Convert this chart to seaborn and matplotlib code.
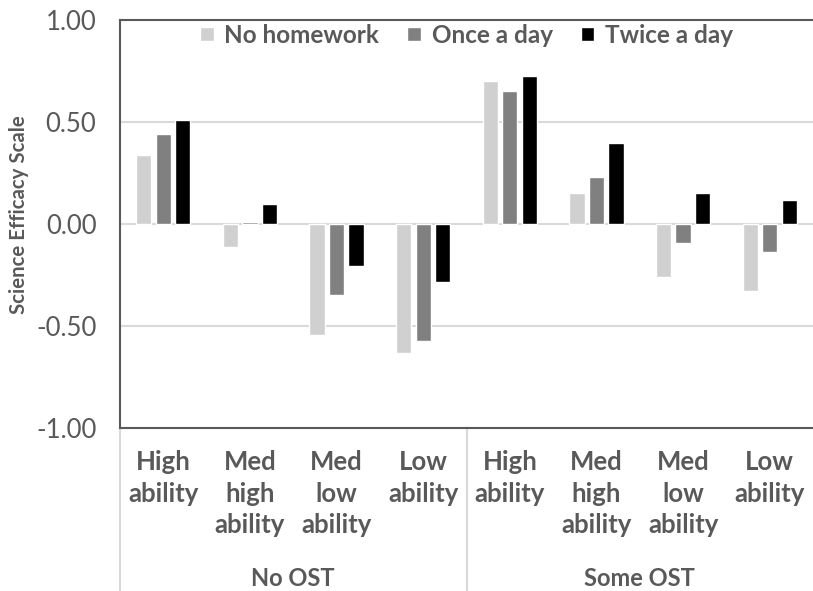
import numpy as np
import matplotlib
matplotlib.use("Agg")
import matplotlib.pyplot as plt
import pandas as pd
import seaborn as sns

# data
groups = ["No OST", "Some OST"]
abilities = ["High\nability", "Med\nhigh\nability", "Med\nlow\nability", "Low\nability"]
homework = ["No homework", "Once a day", "Twice a day"]

no_homework = [0.34, -0.115, -0.545, -0.63, 0.70, 0.15, -0.26, -0.33]
once_a_day = [0.44, 0.01, -0.35, -0.575, 0.65, 0.23, -0.095, -0.135]
twice_a_day = [0.51, 0.10, -0.205, -0.285, 0.725, 0.395, 0.15, 0.12]

colors = ["#d0d0d0", "#808080", "#000000"]
text_color = "#595959"

cats = [g + "|" + a for g in groups for a in abilities]
df = pd.DataFrame({
    "cat": cats * 3,
    "hw": sum([[h] * len(cats) for h in homework], []),
    "value": no_homework + once_a_day + twice_a_day,
})

sns.set_style("white")
plt.rcParams["font.family"] = ["Lato", "DejaVu Sans"]

fig = plt.figure(figsize=(8.13, 5.91), dpi=100)
ax = fig.add_axes([120 / 813, 1 - 428 / 591, 1 - 120 / 813, (428 - 20) / 591])

sns.barplot(data=df, x="cat", y="value", hue="hw", order=cats, hue_order=homework,
            palette=colors, width=0.675, gap=0.22, ax=ax, saturation=1)

ax.set_ylim(-1, 1)
ax.set_xlim(-0.5, len(cats) - 0.5)
ax.set_yticks([-1, -0.5, 0, 0.5, 1])
ax.set_yticklabels(["-1.00", "-0.50", "0.00", "0.50", "1.00"], fontsize=18.5)
ax.set_xticks(range(len(cats)))
ax.set_xticklabels([c.split("|")[1] for c in cats], fontweight="bold",
                   fontsize=18.5, linespacing=1.38)
ax.tick_params(axis="both", length=0, colors=text_color)
ax.tick_params(axis="y", pad=17)
ax.tick_params(axis="x", pad=16)
ax.yaxis.grid(True, color="#d9d9d9", lw=1.5)
ax.set_axisbelow(True)
ax.set_xlabel("")
ax.set_ylabel("Science Efficacy Scale", fontsize=14.7, fontweight="bold",
              color=text_color)
ax.yaxis.set_label_coords(-0.131, 0.522)

for side in ["top", "left", "bottom"]:
    ax.spines[side].set_color("#595959")
    ax.spines[side].set_linewidth(1.5)
ax.spines["right"].set_visible(False)

# group separators and group labels below the axis
trans = ax.get_xaxis_transform()
for xpos in [-0.5, 3.5]:
    ax.plot([xpos, xpos], [0, -0.42], transform=trans, color="#d9d9d9",
            lw=1.5, clip_on=False)
for i, g in enumerate(groups):
    ax.text(1.5 + 4 * i, -0.37, g, transform=trans, ha="center", va="center",
            fontsize=17, fontweight="bold", color=text_color)

ax.legend(loc="upper center", ncol=3, frameon=False, bbox_to_anchor=(0.5, 1.045),
          prop={"size": 17.5, "weight": "bold"}, labelcolor=text_color,
          handlelength=0.55, handleheight=0.55, handletextpad=0.45, columnspacing=1.15)

fig.savefig("out.png", dpi=100)
